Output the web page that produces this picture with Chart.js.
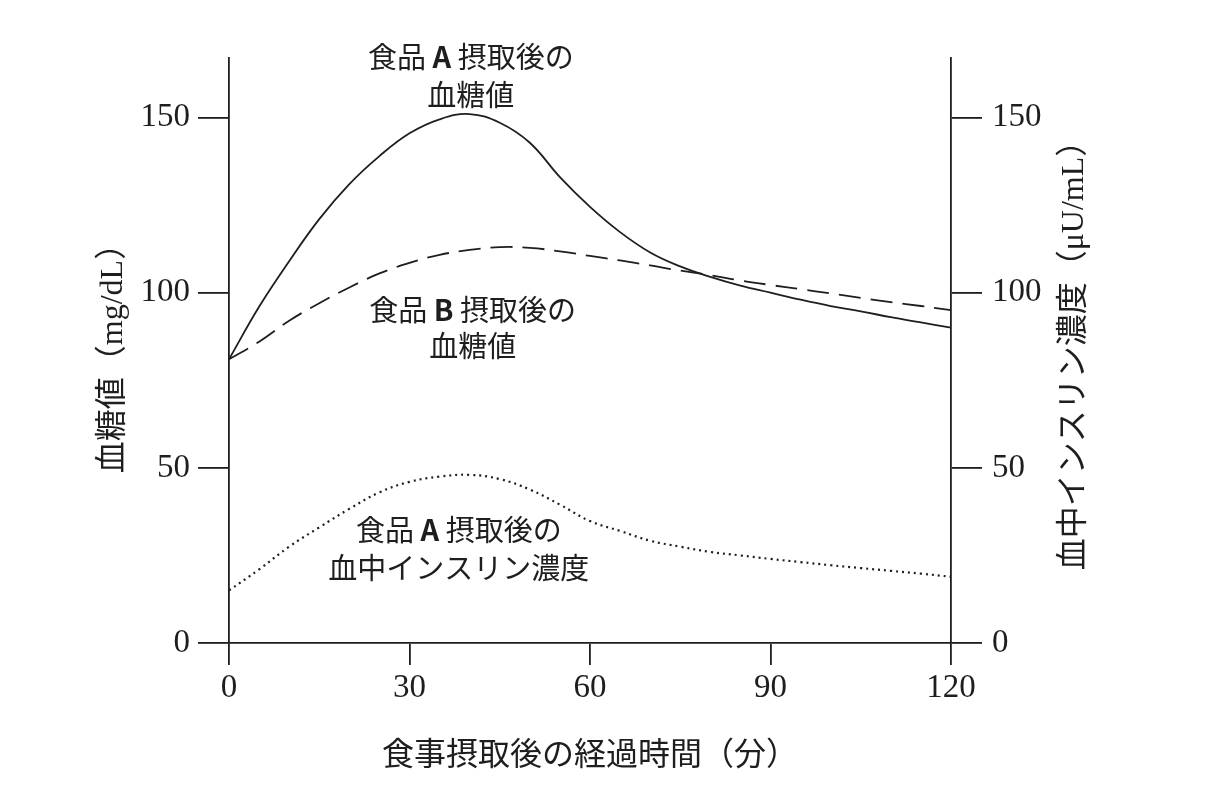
<!DOCTYPE html>
<html><head><meta charset="utf-8">
<script src="https://cdn.jsdelivr.net/npm/chart.js@4/dist/chart.umd.min.js"></script>
<style>html,body{margin:0;padding:0;background:#fff;} #wrap{width:1230px;height:802px;position:relative;}</style>
</head><body><div id="wrap"><canvas id="c"></canvas></div>
<script>
// ---- data ----
const minutes  = [0,5,10,15,20,25,30,35,40,45,50,55,60,65,70,75,80,85,90,95,100,105,110,115,120];
const glucoseA = [81,96,109,121,131,139,145.5,149.5,151,148.5,142.8,133,124.5,117.3,111.5,107.5,104.5,102,100,98,96.2,94.7,93,91.5,90];
const glucoseB = [81,86,92,97,101.5,105.5,108.5,110.8,112.2,113,112.8,111.8,110.5,109.2,107.8,106.3,105,103.5,102.2,101,99.8,98.5,97.3,96.2,95];
const insulinA = [15,21,27.5,33,38.3,43,46,47.5,48,46.8,43.8,39.5,34.8,32,29.2,27.5,26,25,24,23.1,22.2,21.4,20.6,19.8,18.9];
const xTicks = [0,30,60,90,120];
const yTicks = [0,50,100,150];
const xTitle  = '食事摂取後の経過時間（分）';
const yTitle  = '血糖値（mg/dL）';
const y2Title = '血中インスリン濃度（μU/mL）';
const labelA   = [['食品 ','A',' 摂取後の'],['血糖値']];
const labelB   = [['食品 ','B',' 摂取後の'],['血糖値']];
const labelIns = [['食品 ','A',' 摂取後の'],['血中インスリン濃度']];

// ---- styling / layout ----
const INK = '#1e1e1e';
const serif = "'Liberation Serif','Noto Sans CJK JP',serif";
const cjk = "'Noto Sans CJK JP','Noto Sans CJK SC',sans-serif";
const toXY = arr => minutes.map((m,i)=>({x:m,y:arr[i]}));

// annotation anchors in data units (minutes, value)
const notes = [
  {lines: labelA,   x: 40.2, y: [167.4,156.3]},
  {lines: labelB,   x: 40.5, y: [95.2,84.7]},
  {lines: labelIns, x: 38.2, y: [32.2,21.4]}
];

const annot = {
  id: 'annot',
  afterDraw(chart){
    const ctx = chart.ctx, xs = chart.scales.x, ys = chart.scales.y;
    ctx.save();
    ctx.fillStyle = INK;
    ctx.textAlign = 'left';
    ctx.textBaseline = 'middle';
    const fontFor = i => (i === 1 ? 'bold 29px ' : '29px ') + cjk;
    notes.forEach(n=>{
      n.lines.forEach((segs,li)=>{
        let total = 0;
        const widths = segs.map((s,i)=>{ ctx.font = segs.length>1 ? fontFor(i) : fontFor(0); const w = ctx.measureText(s).width; total += w; return w; });
        let x = xs.getPixelForValue(n.x) - total/2;
        const y = ys.getPixelForValue(n.y[li]);
        segs.forEach((s,i)=>{ ctx.font = segs.length>1 ? fontFor(i) : fontFor(0); ctx.fillText(s, x, y); x += widths[i]; });
      });
    });
    // right axis title, reading bottom-to-top
    const ca = chart.chartArea;
    ctx.textAlign = 'center';
    ctx.translate(ca.right + 124, (ca.top + ca.bottom)/2 - 3);
    ctx.rotate(-Math.PI/2);
    ctx.font = '32px ' + serif;
    ctx.fillText(y2Title, 0, 0);
    ctx.restore();
  }
};

const axisCommon = {
  grid: {drawOnChartArea:false, drawTicks:true, color:INK, lineWidth:1.8},
  border: {display:true, color:INK, width:1.8},
};

new Chart(document.getElementById('c'), {
  type: 'line',
  data: {
    datasets: [
      {label:'A血糖値', data: toXY(glucoseA), yAxisID:'y', borderColor:INK, borderWidth:1.8, pointRadius:0, tension:0.4, fill:false},
      {label:'B血糖値', data: toXY(glucoseB), yAxisID:'y', borderColor:INK, borderWidth:1.8, borderDash:[22,10], pointRadius:0, tension:0.4, fill:false},
      {label:'Aインスリン', data: toXY(insulinA), yAxisID:'y2', borderColor:INK, borderWidth:2.2, borderDash:[2,4], pointRadius:0, tension:0.4, fill:false}
    ]
  },
  options: {
    responsive: true,
    maintainAspectRatio: false,
    animation: false,
    devicePixelRatio: 1,
    layout: {padding: {top:58, left:0, right:0, bottom:0}},
    plugins: {legend:{display:false}, tooltip:{enabled:false}},
    scales: {
      x: {
        type:'linear', min:0, max:120, position:'bottom',
        grid: {...axisCommon.grid, tickLength:22},
        border: axisCommon.border,
        afterBuildTicks: s => { s.ticks = xTicks.map(v=>({value:v})); },
        ticks: {color:INK, font:{family:serif, size:33}, padding:4},
        title: {display:true, text:xTitle, color:INK, font:{family:serif, size:32}, padding:{top:0,bottom:26}},
        afterFit: s => { s.height = 159; }
      },
      y: {
        type:'linear', min:0, max:167, position:'left',
        grid: {...axisCommon.grid, tickLength:31},
        border: axisCommon.border,
        afterBuildTicks: s => { s.ticks = yTicks.map(v=>({value:v})); },
        ticks: {color:INK, font:{family:serif, size:33}, padding:8},
        title: {display:true, text:yTitle, color:INK, font:{family:serif, size:32}, padding:{top:94,bottom:0}},
        afterFit: s => { s.width = 229; }
      },
      y2: {
        type:'linear', min:0, max:167, position:'right',
        grid: {...axisCommon.grid, tickLength:31},
        border: axisCommon.border,
        afterBuildTicks: s => { s.ticks = yTicks.map(v=>({value:v})); },
        ticks: {color:INK, font:{family:serif, size:33}, padding:10},
        title: {display:false},
        afterFit: s => { s.width = 279; }
      }
    }
  },
  plugins: [annot]
});
</script></body></html>
